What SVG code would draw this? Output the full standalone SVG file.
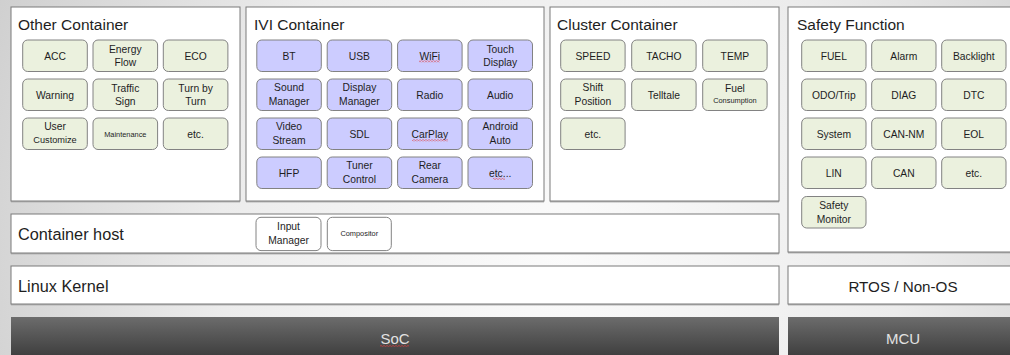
<svg xmlns="http://www.w3.org/2000/svg" width="1010" height="355" viewBox="0 0 1010 355">
<defs>
<radialGradient id="bg" gradientUnits="userSpaceOnUse" cx="560" cy="250" r="620">
<stop offset="0" stop-color="#fbfbfb"/>
<stop offset="0.55" stop-color="#ececec"/>
<stop offset="1" stop-color="#cfcfcf"/>
</radialGradient>
<linearGradient id="dark" x1="0" y1="0" x2="0" y2="1">
<stop offset="0" stop-color="#6c6c6c"/>
<stop offset="1" stop-color="#3d3d3d"/>
</linearGradient>
<pattern id="sq" patternUnits="userSpaceOnUse" width="3" height="2">
<path d="M0 1.6 L1.5 0.4 L3 1.6" fill="none" stroke="#e03a3a" stroke-width="0.7"/>
</pattern>
<style>
.cont{fill:#fff;stroke:#7a7a7a;stroke-width:1}
.shadow{fill:#b5b5b5}
.g{fill:#ebf1de;stroke:#828282;stroke-width:1}
.p{fill:#ccccff;stroke:#828282;stroke-width:1}
.w{fill:#fff;stroke:#828282;stroke-width:1}
.dark{fill:url(#dark)}
text{font-family:"Liberation Sans",Arial,sans-serif;fill:#1e1e1e}
.title{font-size:15.5px}
.layer{font-size:16.3px}
.t{font-size:10.3px;text-anchor:middle}
.s{font-size:7.4px;text-anchor:middle}
.s9{font-size:9.2px;text-anchor:middle}
.light{font-size:15px;fill:#e2e2e2;text-anchor:middle}
.rt{font-size:15.2px;text-anchor:middle}
</style>
</defs>
<rect x="0" y="0" width="1010" height="355" fill="url(#bg)"/>

<g id="other-container">
<rect class="shadow" x="11" y="8.5" width="229" height="194"/>
<rect class="cont" x="11" y="7" width="229" height="194"/>
<text class="title" x="18" y="30">Other Container</text>
<g id="acc"><rect class="g" x="22.7" y="40" width="64.6" height="31.5" rx="5"/><text class="t" x="55" y="59.5">ACC</text></g>
<g id="energy-flow"><rect class="g" x="93" y="40" width="64.6" height="31.5" rx="5"/><text class="t" x="125.3" y="52.5">Energy</text><text class="t" x="125.3" y="66">Flow</text></g>
<g id="eco"><rect class="g" x="163.3" y="40" width="64.6" height="31.5" rx="5"/><text class="t" x="195.6" y="59.5">ECO</text></g>
<g id="warning"><rect class="g" x="22.7" y="79" width="64.6" height="31.5" rx="5"/><text class="t" x="55" y="98.5">Warning</text></g>
<g id="traffic-sign"><rect class="g" x="93" y="79" width="64.6" height="31.5" rx="5"/><text class="t" x="125.3" y="91.5">Traffic</text><text class="t" x="125.3" y="105">Sign</text></g>
<g id="turn-by-turn"><rect class="g" x="163.3" y="79" width="64.6" height="31.5" rx="5"/><text class="t" x="195.6" y="91.5">Turn by</text><text class="t" x="195.6" y="105">Turn</text></g>
<g id="user-customize"><rect class="g" x="22.7" y="118" width="64.6" height="31.5" rx="5"/><text class="t" x="55" y="130">User</text><text class="s9" x="55" y="143.3">Customize</text></g>
<g id="maintenance"><rect class="g" x="93" y="118" width="64.6" height="31.5" rx="5"/><text class="s" x="125.3" y="136.5">Maintenance</text></g>
<g id="other-etc"><rect class="g" x="163.3" y="118" width="64.6" height="31.5" rx="5"/><text class="t" x="195.6" y="137.5">etc.</text></g>
</g>

<g id="ivi-container">
<rect class="shadow" x="246" y="8.5" width="298" height="194"/>
<rect class="cont" x="246" y="7" width="298" height="194"/>
<text class="title" x="254" y="30">IVI Container</text>
<g id="bt"><rect class="p" x="256.8" y="40" width="64.5" height="31.5" rx="5"/><text class="t" x="289" y="59.5">BT</text></g>
<g id="usb"><rect class="p" x="327.2" y="40" width="64.5" height="31.5" rx="5"/><text class="t" x="359.4" y="59.5">USB</text></g>
<g id="wifi"><rect class="p" x="397.6" y="40" width="64.5" height="31.5" rx="5"/><text class="t" x="429.8" y="59.5">WiFi</text><rect x="419" y="60.3" width="21" height="2" fill="url(#sq)"/></g>
<g id="touch-display"><rect class="p" x="468" y="40" width="64.5" height="31.5" rx="5"/><text class="t" x="500.2" y="52.5">Touch</text><text class="t" x="500.2" y="66">Display</text></g>
<g id="sound-manager"><rect class="p" x="256.8" y="79" width="64.5" height="31.5" rx="5"/><text class="t" x="289" y="91.3">Sound</text><text class="t" x="289" y="105">Manager</text></g>
<g id="display-manager"><rect class="p" x="327.2" y="79" width="64.5" height="31.5" rx="5"/><text class="t" x="359.4" y="91.3">Display</text><text class="t" x="359.4" y="105">Manager</text></g>
<g id="radio"><rect class="p" x="397.6" y="79" width="64.5" height="31.5" rx="5"/><text class="t" x="429.8" y="98.5">Radio</text></g>
<g id="audio"><rect class="p" x="468" y="79" width="64.5" height="31.5" rx="5"/><text class="t" x="500.2" y="98.5">Audio</text></g>
<g id="video-stream"><rect class="p" x="256.8" y="118" width="64.5" height="31.5" rx="5"/><text class="t" x="289" y="130.3">Video</text><text class="t" x="289" y="144">Stream</text></g>
<g id="sdl"><rect class="p" x="327.2" y="118" width="64.5" height="31.5" rx="5"/><text class="t" x="359.4" y="137.5">SDL</text></g>
<g id="carplay"><rect class="p" x="397.6" y="118" width="64.5" height="31.5" rx="5"/><text class="t" x="429.8" y="137.5">CarPlay</text><rect x="412" y="139.3" width="36" height="2" fill="url(#sq)"/></g>
<g id="android-auto"><rect class="p" x="468" y="118" width="64.5" height="31.5" rx="5"/><text class="t" x="500.2" y="130.3">Android</text><text class="t" x="500.2" y="144">Auto</text></g>
<g id="hfp"><rect class="p" x="256.8" y="157" width="64.5" height="31.5" rx="5"/><text class="t" x="289" y="176.5">HFP</text></g>
<g id="tuner-control"><rect class="p" x="327.2" y="157" width="64.5" height="31.5" rx="5"/><text class="t" x="359.4" y="169.3">Tuner</text><text class="t" x="359.4" y="183">Control</text></g>
<g id="rear-camera"><rect class="p" x="397.6" y="157" width="64.5" height="31.5" rx="5"/><text class="t" x="429.8" y="169.3">Rear</text><text class="t" x="429.8" y="183">Camera</text></g>
<g id="ivi-etc"><rect class="p" x="468" y="157" width="64.5" height="31.5" rx="5"/><text class="t" x="500.2" y="176.5">etc...</text><rect x="493" y="177.8" width="12" height="2" fill="url(#sq)"/></g>
</g>

<g id="cluster-container">
<rect class="shadow" x="550" y="8.5" width="229" height="194"/>
<rect class="cont" x="550" y="7" width="229" height="194"/>
<text class="title" x="557" y="30">Cluster Container</text>
<g id="speed"><rect class="g" x="560.7" y="40" width="64.4" height="31.5" rx="5"/><text class="t" x="592.9" y="59.5">SPEED</text></g>
<g id="tacho"><rect class="g" x="631.7" y="40" width="64.4" height="31.5" rx="5"/><text class="t" x="663.9" y="59.5">TACHO</text></g>
<g id="temp"><rect class="g" x="702.7" y="40" width="64.4" height="31.5" rx="5"/><text class="t" x="734.9" y="59.5">TEMP</text></g>
<g id="shift-position"><rect class="g" x="560.7" y="79" width="64.4" height="31.5" rx="5"/><text class="t" x="592.9" y="91.3">Shift</text><text class="t" x="592.9" y="105">Position</text></g>
<g id="telltale"><rect class="g" x="631.7" y="79" width="64.4" height="31.5" rx="5"/><text class="t" x="663.9" y="98.5">Telltale</text></g>
<g id="fuel-consumption"><rect class="g" x="702.7" y="79" width="64.4" height="31.5" rx="5"/><text class="t" x="734.9" y="91.8">Fuel</text><text class="s" x="734.9" y="103">Consumption</text></g>
<g id="cluster-etc"><rect class="g" x="560.7" y="118" width="64.4" height="31.5" rx="5"/><text class="t" x="592.9" y="137.5">etc.</text></g>
</g>

<g id="safety-function">
<rect class="shadow" x="788" y="8.5" width="235" height="245"/>
<rect class="cont" x="788" y="7" width="235" height="245"/>
<text class="title" x="797" y="30">Safety Function</text>
<g id="fuel"><rect class="g" x="801.7" y="40" width="64.3" height="31.5" rx="5"/><text class="t" x="833.8" y="59.5">FUEL</text></g>
<g id="alarm"><rect class="g" x="871.7" y="40" width="64.3" height="31.5" rx="5"/><text class="t" x="903.8" y="59.5">Alarm</text></g>
<g id="backlight"><rect class="g" x="941.7" y="40" width="64.3" height="31.5" rx="5"/><text class="t" x="973.8" y="59.5">Backlight</text></g>
<g id="odo-trip"><rect class="g" x="801.7" y="79" width="64.3" height="31.5" rx="5"/><text class="t" x="833.8" y="98.5">ODO/Trip</text></g>
<g id="diag"><rect class="g" x="871.7" y="79" width="64.3" height="31.5" rx="5"/><text class="t" x="903.8" y="98.5">DIAG</text></g>
<g id="dtc"><rect class="g" x="941.7" y="79" width="64.3" height="31.5" rx="5"/><text class="t" x="973.8" y="98.5">DTC</text></g>
<g id="system"><rect class="g" x="801.7" y="118" width="64.3" height="31.5" rx="5"/><text class="t" x="833.8" y="137.5">System</text></g>
<g id="can-nm"><rect class="g" x="871.7" y="118" width="64.3" height="31.5" rx="5"/><text class="t" x="903.8" y="137.5">CAN-NM</text></g>
<g id="eol"><rect class="g" x="941.7" y="118" width="64.3" height="31.5" rx="5"/><text class="t" x="973.8" y="137.5">EOL</text></g>
<g id="lin"><rect class="g" x="801.7" y="157" width="64.3" height="31.5" rx="5"/><text class="t" x="833.8" y="176.5">LIN</text></g>
<g id="can"><rect class="g" x="871.7" y="157" width="64.3" height="31.5" rx="5"/><text class="t" x="903.8" y="176.5">CAN</text></g>
<g id="safety-etc"><rect class="g" x="941.7" y="157" width="64.3" height="31.5" rx="5"/><text class="t" x="973.8" y="176.5">etc.</text></g>
<g id="safety-monitor"><rect class="g" x="801.7" y="196.5" width="64.3" height="31.5" rx="5"/><text class="t" x="833.8" y="208.8">Safety</text><text class="t" x="833.8" y="222.5">Monitor</text></g>
</g>

<g id="container-host">
<rect class="shadow" x="11" y="215.5" width="768" height="39"/>
<rect class="cont" x="11" y="214" width="768" height="39"/>
<text class="layer" x="18" y="240">Container host</text>
<g id="input-manager"><rect class="w" x="256" y="217.3" width="65" height="33.3" rx="5"/><text class="t" x="288.5" y="229.5">Input</text><text class="t" x="288.5" y="244">Manager</text></g>
<g id="compositor"><rect class="w" x="327.3" y="217.3" width="64" height="33.3" rx="5"/><text class="s" x="359.3" y="236">Compositor</text></g>
</g>

<g id="linux-kernel">
<rect class="shadow" x="11" y="267.5" width="768" height="38"/>
<rect class="cont" x="11" y="266" width="768" height="38"/>
<text class="layer" x="18" y="291.5">Linux Kernel</text>
</g>

<g id="rtos">
<rect class="shadow" x="788" y="267.5" width="235" height="38"/>
<rect class="cont" x="788" y="266" width="235" height="38"/>
<text class="rt" x="903" y="291.5">RTOS / Non-OS</text>
</g>

<g id="soc">
<rect class="dark" x="11" y="317" width="768" height="40"/>
<text class="light" x="395" y="344">SoC</text>
<rect x="380" y="345" width="29" height="2" fill="url(#sq)"/>
</g>

<g id="mcu">
<rect class="dark" x="788" y="317" width="235" height="40"/>
<text class="light" x="903" y="344">MCU</text>
</g>

<g id="connectors"/>
</svg>
